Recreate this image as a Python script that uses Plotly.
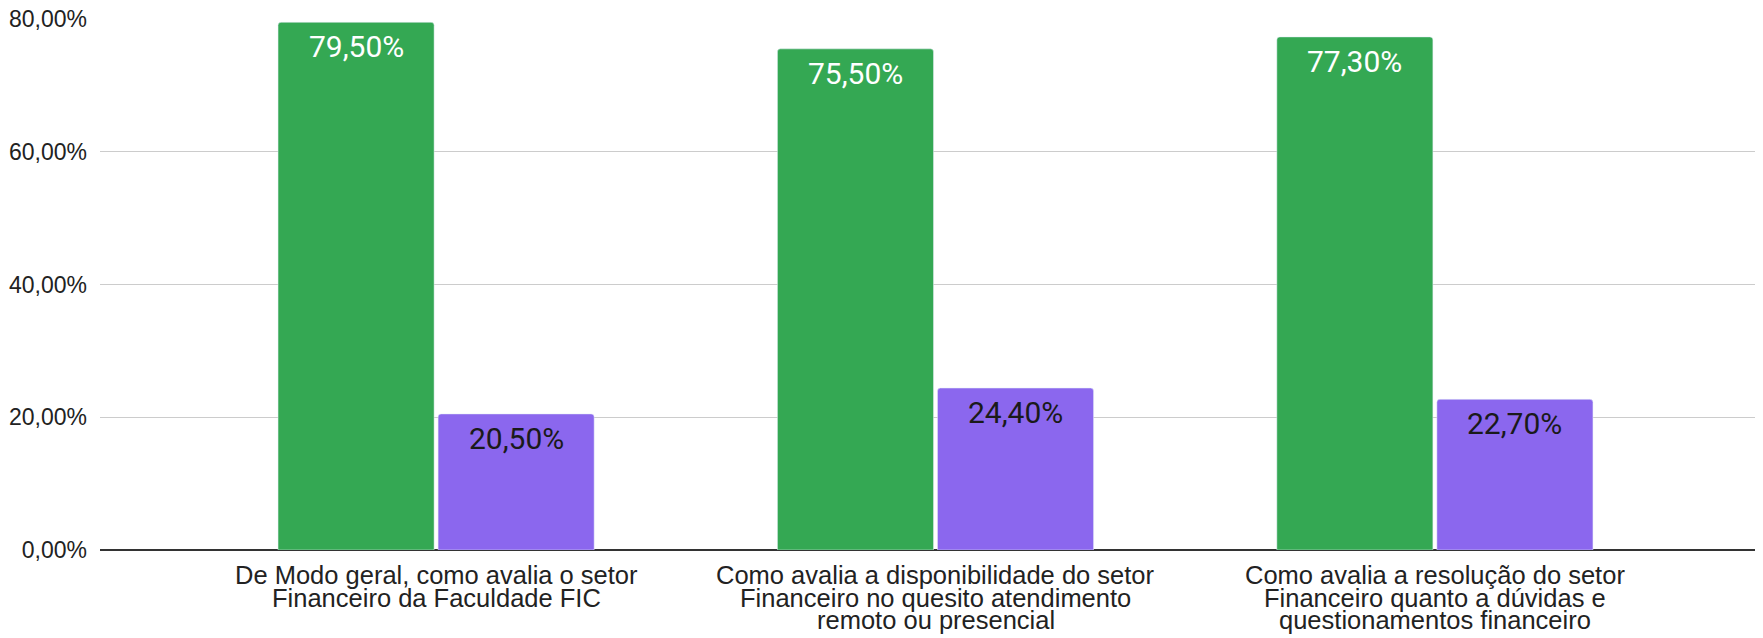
import plotly.graph_objects as go

categories = [
    "De Modo geral, como avalia o setor<br>Financeiro da Faculdade FIC",
    "Como avalia a disponibilidade do setor<br>Financeiro no quesito atendimento<br>remoto ou presencial",
    "Como avalia a resolução do setor<br>Financeiro quanto a dúvidas e<br>questionamentos financeiro",
]
series_a = [0.795, 0.755, 0.773]
series_b = [0.205, 0.244, 0.227]
y_ticks = [0, 0.2, 0.4, 0.6, 0.8]

GREEN = "#34A853"
PURPLE = "#8B67EE"

# page body has an 8px default margin
W, H = 1755, 630
ML, MR, MT, MB = 92, 0, 11, 88
X_RANGE = [-0.673, 2.657]
BARGAP = 0.359

fig = go.Figure()
fig.add_trace(go.Bar(x=categories, y=series_a, marker_color=GREEN,
                     showlegend=False, hoverinfo="skip"))
fig.add_trace(go.Bar(x=categories, y=series_b, marker_color=PURPLE,
                     showlegend=False, hoverinfo="skip"))

px_per_cat = (W - ML - MR) / (X_RANGE[1] - X_RANGE[0])
half_slot = (1 - BARGAP) * px_per_cat / 4

annotations = []
# value labels inside bars, near the top
for vals, color, sign in ((series_a, "#FFFFFF", -1), (series_b, "#1A1A1A", 1)):
    for cat, v in zip(categories, vals):
        annotations.append(dict(
            x=cat, y=v, xref="x", yref="y",
            text=f"{v * 100:.2f}%".replace(".", ","), showarrow=False,
            xanchor="center", yanchor="top", xshift=sign * half_slot, yshift=-5,
            font=dict(family="Roboto", size=30, color=color),
        ))

# category labels (tight line spacing)
for cat in categories:
    for i, line in enumerate(cat.split("<br>")):
        annotations.append(dict(
            x=cat, y=0, xref="x", yref="y", text=line, showarrow=False,
            xanchor="center", yanchor="middle", yshift=-(25 + 22.5 * i),
            font=dict(family="Liberation Sans, Arial", size=25.5, color="#222222"),
        ))

fig.update_layout(
    width=W, height=H,
    margin=dict(l=ML, r=MR, t=MT, b=MB),
    paper_bgcolor="white", plot_bgcolor="white",
    barmode="group", bargap=BARGAP, bargroupgap=0.025,
    barcornerradius=3,
    separators=",.",
    annotations=annotations,
    xaxis=dict(
        type="category", range=X_RANGE, showticklabels=False,
        showgrid=False, zeroline=False, showline=False, fixedrange=True,
    ),
    yaxis=dict(
        range=[0, 0.8], tickvals=y_ticks, tickformat=".2%",
        showgrid=True, gridcolor="#CCCCCC", gridwidth=1.3,
        zeroline=True, zerolinecolor="#333333", zerolinewidth=1.6,
        showline=False, ticks="", ticklabelstandoff=12,
        ticklabeloverflow="allow", automargin=False,
        tickfont=dict(family="Liberation Sans, Arial", size=23, color="#222222"),
    ),
)

fig.write_html("out.html")
